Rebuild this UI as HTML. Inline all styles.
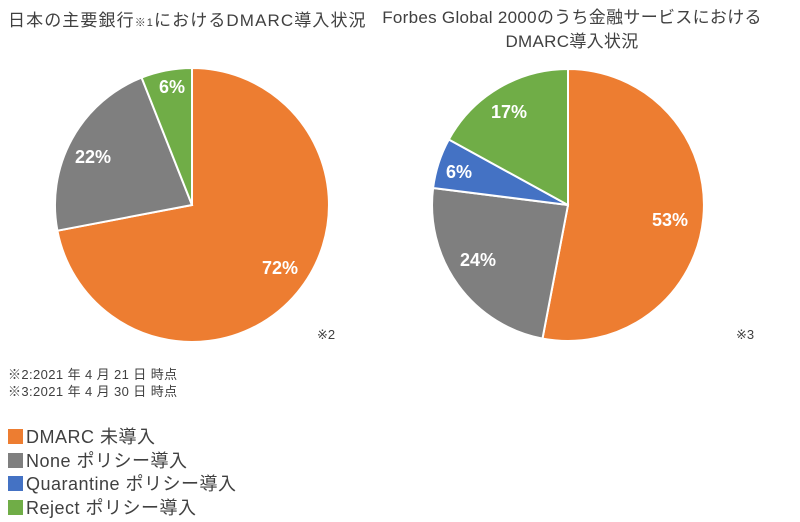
<!DOCTYPE html>
<html><head><meta charset="utf-8"><style>
body{margin:0;width:800px;height:522px;background:#fff;overflow:hidden;font-family:"Liberation Sans","Noto Sans CJK JP",sans-serif;position:relative}
.t{position:absolute;color:#404040;font-size:17px;white-space:nowrap}
.n{position:absolute;color:#404040;font-size:13px;left:8px;line-height:17px;letter-spacing:0.4px}
.lg{position:absolute;left:8px;font-size:18px;color:#404040;line-height:23.5px;top:426px;letter-spacing:0.5px}
.lg span{display:inline-block;width:15px;height:15px;margin-right:3px;vertical-align:-1px}
</style></head><body>
<div class="t" style="left:8px;top:6px;letter-spacing:1.1px">日本の主要銀行<span style="font-size:11px">※1</span>におけるDMARC導入状況</div>
<div class="t" style="left:380px;top:6px;width:384px;text-align:center;line-height:24px;letter-spacing:0.3px">Forbes Global 2000のうち金融サービスにおける<br>DMARC導入状況</div>
<svg width="800" height="522" style="position:absolute;left:0;top:0" font-family="Liberation Sans, sans-serif" font-weight="bold" font-size="18" fill="#fff">
<g stroke="#fff" stroke-width="2">
<path d="M192,205 L192,68 A137,137 0 1 1 57.4,230.7 Z" fill="#ED7D31"/>
<path d="M192,205 L57.4,230.7 A137,137 0 0 1 141.6,77.6 Z" fill="#7F7F7F"/>
<path d="M192,205 L141.6,77.6 A137,137 0 0 1 192,68 Z" fill="#70AD47"/>
<path d="M568,205 L568,69 A136,136 0 1 1 542.5,338.6 Z" fill="#ED7D31"/>
<path d="M568,205 L542.5,338.6 A136,136 0 0 1 433.1,188 Z" fill="#7F7F7F"/>
<path d="M568,205 L433.1,188 A136,136 0 0 1 448.8,139.5 Z" fill="#4472C4"/>
<path d="M568,205 L448.8,139.5 A136,136 0 0 1 568,69 Z" fill="#70AD47"/>
</g>
<g text-anchor="middle" stroke="none">
<text x="280" y="274">72%</text><text x="93" y="163">22%</text><text x="172" y="93">6%</text>
<text x="670" y="226">53%</text><text x="478" y="266">24%</text><text x="459" y="178">6%</text><text x="509" y="118">17%</text>
</g>
<g fill="#404040" font-weight="normal" font-size="13"><text x="317" y="339">※2</text><text x="736" y="339">※3</text></g>
</svg>
<div class="n" style="top:366px">※2:2021 年 4 月 21 日 時点<br>※3:2021 年 4 月 30 日 時点</div>
<div class="lg">
<div><span style="background:#ED7D31"></span>DMARC 未導入</div>
<div><span style="background:#7F7F7F"></span>None ポリシー導入</div>
<div><span style="background:#4472C4"></span>Quarantine ポリシー導入</div>
<div><span style="background:#70AD47"></span>Reject ポリシー導入</div>
</div>
</body></html>
